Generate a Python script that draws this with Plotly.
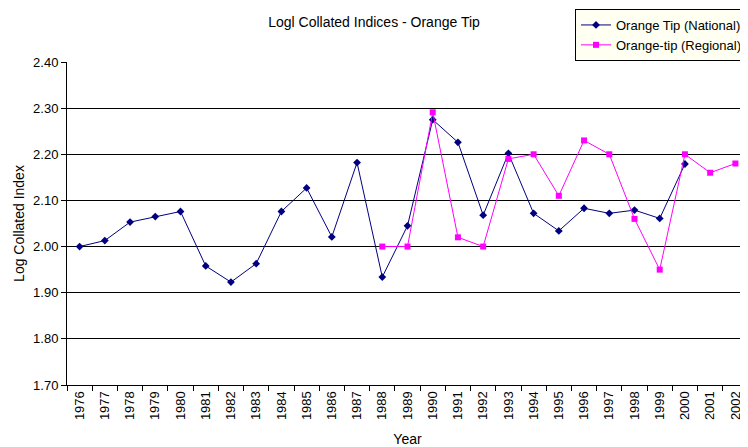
import plotly.graph_objects as go

years = [str(y) for y in range(1976, 2003)]
national = [2.000, 2.013, 2.053, 2.065, 2.076, 1.958, 1.923, 1.963, 2.076, 2.127,
            2.021, 2.182, 1.934, 2.045, 2.275, 2.226, 2.068, 2.202, 2.072, 2.034,
            2.083, 2.072, 2.079, 2.061, 2.179, None, None]
regional = [None] * 12 + [2.00, 2.00, 2.291, 2.020, 2.00, 2.19, 2.20, 2.11,
                          2.23, 2.20, 2.06, 1.95, 2.20, 2.16, 2.18]
y_ticks = [1.70, 1.80, 1.90, 2.00, 2.10, 2.20, 2.30, 2.40]

# page body has an 8px margin, so the figure is sized to fit the window
W, H = 740, 439

fig = go.Figure()
fig.add_trace(go.Scatter(x=years, y=national, mode="lines+markers",
                         name="Orange Tip (National)",
                         line=dict(color="#000080", width=1),
                         marker=dict(symbol="diamond", size=6, color="#000080"),
                         connectgaps=False))
fig.add_trace(go.Scatter(x=years, y=regional, mode="lines+markers",
                         name="Orange-tip (Regional)",
                         line=dict(color="#FF00FF", width=1),
                         marker=dict(symbol="square", size=6, color="#FF00FF"),
                         connectgaps=False))

fig.update_layout(
    width=W, height=H,
    margin=dict(l=59, r=0, t=54, b=62, autoexpand=False),
    paper_bgcolor="white", plot_bgcolor="white",
    font=dict(family="Liberation Sans, Arial, sans-serif", size=13, color="black"),
    title=dict(text="Logl Collated Indices - Orange Tip", x=366 / W, xref="container",
               y=1 - 14 / H, yref="container", xanchor="center", yanchor="middle",
               font=dict(size=14)),
    showlegend=True,
    legend=dict(xref="container", yref="container", x=1, y=1 - 1 / H,
                xanchor="right", yanchor="top", bgcolor="#FFFFF2",
                bordercolor="black", borderwidth=1, font=dict(size=13),
                tracegroupgap=0, itemwidth=30),
)
fig.update_xaxes(type="category", tickangle=-90, ticks="outside", tickson="boundaries",
                 ticklen=5, tickcolor="black", showline=True, linecolor="black",
                 linewidth=1, showgrid=False, automargin=False,
                 tickfont=dict(size=13),
                 title=dict(text="Year", standoff=15, font=dict(size=14)),
                 range=[-0.5, 26.5])
fig.update_yaxes(range=[1.70, 2.40], tickvals=y_ticks,
                 ticktext=[f"{v:.2f}" for v in y_ticks],
                 ticks="outside", ticklen=5, tickcolor="black",
                 showline=True, linecolor="black", linewidth=1,
                 showgrid=True, gridcolor="black", gridwidth=1,
                 zeroline=False, automargin=False,
                 tickfont=dict(size=13),
                 title=dict(text="Log Collated Index", standoff=5, font=dict(size=14)))

fig.write_html("out.html")
